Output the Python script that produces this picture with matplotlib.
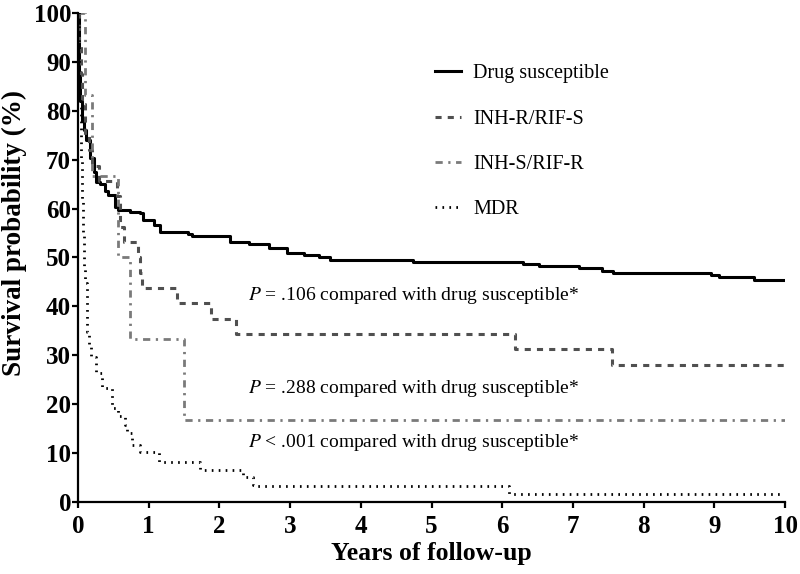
import matplotlib
matplotlib.use("Agg")
import matplotlib.pyplot as plt

plt.rcParams['font.family'] = ['Liberation Serif', 'DejaVu Serif']
plt.rcParams['mathtext.fontset'] = 'stix'

# Kaplan-Meier curves, values (years, survival %)
t_ds = [0, 0.01, 0.02, 0.03, 0.05, 0.08, 0.12, 0.17, 0.22, 0.26, 0.31, 0.38, 0.43,
        0.52, 0.57, 0.74, 0.88, 0.92, 1.07, 1.16, 1.56, 1.61, 2.15, 2.42, 2.7, 2.95,
        3.2, 3.41, 3.57, 4.73, 6.29, 6.52, 7.08, 7.41, 7.56, 8.95, 9.07, 9.56, 10]
s_ds = [100, 95, 88, 82, 78, 76, 74, 70.3, 67.5, 65.5, 65, 63.5, 62.8,
        60.4, 59.7, 59.4, 59, 57.7, 56.6, 55.3, 54.9, 54.3, 53.2, 52.7, 51.9, 51.0,
        50.5, 50.0, 49.5, 49.1, 48.7, 48.3, 47.8, 47.3, 46.9, 46.4, 46.1, 45.4, 45.4]

t_inhr = [0, 0.02, 0.04, 0.06, 0.1, 0.15, 0.2, 0.3, 0.55, 0.6, 0.65, 0.85, 0.88,
          0.9, 1.4, 1.88, 2.24, 6.18, 7.55, 10]
s_inhr = [100, 93.8, 87.5, 81.3, 75, 71.9, 68.8, 65.6, 62.5, 56.3, 53.1, 50, 46.9,
          43.8, 40.6, 37.5, 34.4, 31.3, 28.1, 28.1]

t_rifr = [0, 0.1, 0.2, 0.56, 0.73, 1.5, 10]
s_rifr = [100, 83.3, 66.7, 50, 33.3, 16.7, 16.7]

t_mdr = [0, 0.01, 0.02, 0.04, 0.05, 0.07, 0.09, 0.1, 0.13, 0.16, 0.19, 0.26, 0.34,
         0.48, 0.57, 0.66, 0.69, 0.76, 0.88, 1.14, 1.73, 2.33, 2.47, 2.5, 6.1, 10]
s_mdr = [100, 90, 82, 70, 62, 55, 48, 44.8, 34.8, 32, 29.7, 26.4, 23.3,
         19.2, 17.5, 15.7, 14.1, 11.7, 10.2, 8.2, 6.5, 5.1, 3.5, 3.3, 1.6, 1.6]

labels = ['Drug susceptible', 'INH-R/RIF-S', 'INH-S/RIF-R', 'MDR']
notes = [r'$P$ = .106 compared with drug susceptible*',
         r'$P$ = .288 compared with drug susceptible*',
         r'$P$ < .001 compared with drug susceptible*']

fig = plt.figure(figsize=(8, 5.74), dpi=100)
ax = fig.add_axes([0.0975, 0.1254, 0.884, 0.852])

ax.step(t_ds, s_ds, where='post', color='black', lw=2.2, label=labels[0])
ax.step(t_inhr, s_inhr, where='post', color='#505050', lw=2.2,
        dashes=(2, 2), label=labels[1])
ax.step(t_rifr, s_rifr, where='post', color='#7a7a7a', lw=2.0,
        dashes=(2.6, 2, 0.8, 2), label=labels[2])
ax.step(t_mdr, s_mdr, where='post', color='black', lw=2.0,
        dashes=(0.6, 1.9), label=labels[3])

ax.set_xlim(0, 10)
ax.set_ylim(0, 100)
ax.set_xticks(range(0, 11))
ax.set_yticks(range(0, 101, 10))
for s in ['top', 'right']:
    ax.spines[s].set_visible(False)
for s in ['left', 'bottom']:
    ax.spines[s].set_linewidth(1.6)
ax.tick_params(width=1.6, length=4, labelsize=18)
for lab in ax.get_xticklabels() + ax.get_yticklabels():
    lab.set_fontweight('bold')
ax.tick_params(axis='y', pad=1)
ax.tick_params(axis='x', pad=5)

ax.set_xlabel('Years of follow-up', fontsize=18.5, fontweight='bold', labelpad=3)
ax.set_ylabel('Survival probability (%)', fontsize=19.5, fontweight='bold')
ax.yaxis.set_label_coords(-0.072, 0.55)

ax.legend(loc='upper left', bbox_to_anchor=(0.479, 0.932), frameon=False,
          fontsize=14.5, handlelength=1.3, handletextpad=0.6, labelspacing=1.3)

ax.text(2.4, 42.3, notes[0], fontsize=14, va='center')
ax.text(2.4, 23.3, notes[1], fontsize=14, va='center')
ax.text(2.4, 12.1, notes[2], fontsize=14, va='center')

fig.savefig('out.png', dpi=100)
